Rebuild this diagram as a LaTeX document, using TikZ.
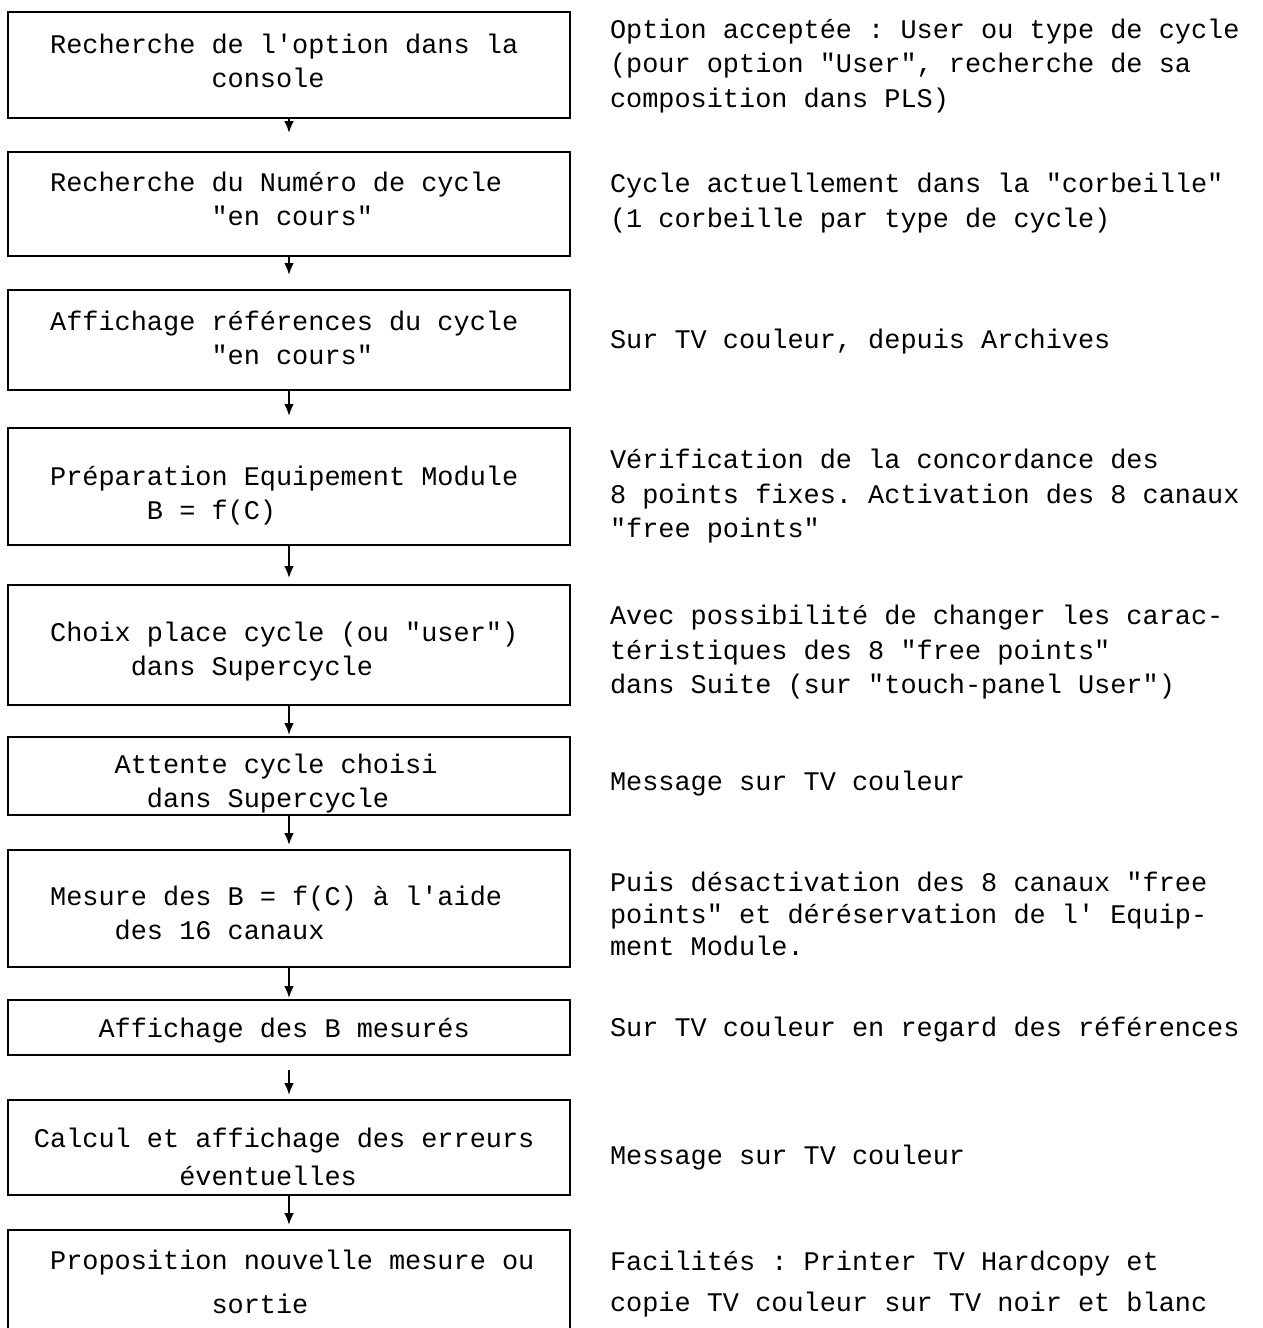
\documentclass[tikz,border=0pt]{standalone}
\usepackage{fontspec}
\setmonofont{Liberation Mono}
\usepackage{tikz}
\usetikzlibrary{positioning,arrows.meta}

% leading blanks, counted in characters of the typewriter font
\newcommand{\pad}[1]{\hspace*{#1\dimexpr0.6em\relax}}

\tikzset{
  box/.style={rectangle, draw, line width=2.3pt, text width=510pt, inner xsep=26pt,
    inner ysep=0pt, outer sep=0pt, align=left, text height=26pt,
    execute at begin node={\spaceskip=0.6em\relax\xspaceskip=0.6em\relax}},
  note/.style={inner sep=0pt, outer sep=0pt, align=left, anchor=west},
  arr/.style={-{Latex[length=12pt,width=10pt]}, line width=2.5pt}
}

\begin{document}
\begin{tikzpicture}[font=\ttfamily\fontsize{26.9pt}{34.5pt}\selectfont]
    \useasboundingbox (0,0) rectangle (1262pt,-1328pt);

    % the steps
    \node[box, minimum height=106pt, text depth=50pt, anchor=north west] (search) at (8pt,-12pt) {\pad{1}Recherche de l'option dans la\\\pad{11}console};
    \node[box, minimum height=104pt, text depth=52pt, below=34pt of search] (number) {\pad{1}Recherche du Numéro de cycle\\\pad{11}"en cours"};
    \node[box, minimum height=100pt, text depth=46pt, below=34pt of number] (refs) {\pad{1}Affichage références du cycle\\\pad{11}"en cours"};
    \node[box, minimum height=117pt, text depth=29pt, below=38pt of refs] (prep) {\pad{1}Préparation Equipement Module\\\pad{7}B = f(C)};
    \node[box, minimum height=120pt, text depth=34pt, below=40pt of prep] (place) {\pad{1}Choix place cycle (ou "user")\\\pad{6}dans Supercycle};
    \node[box, minimum height=78pt, text depth=32pt, below=32pt of place] (wait) {\pad{5}Attente cycle choisi\\\pad{7}dans Supercycle};
    \node[box, minimum height=117pt, text depth=33pt, below=35pt of wait] (measure) {\pad{1}Mesure des B = f(C) à l'aide\\\pad{5}des 16 canaux};
    \node[box, minimum height=55pt, text depth=7pt, below=33pt of measure] (show) {\pad{4}Affichage des B mesurés};
    \node[box, minimum height=95pt, text depth=27pt, below=45pt of show] (errors) {Calcul et affichage des erreurs\\[3.5pt]\pad{9}éventuelles};
    \node[box, minimum height=110pt, text depth=58pt, below=35pt of errors] (next) {\pad{1}Proposition nouvelle mesure ou\\[9.5pt]\pad{11}sortie};

    \draw[arr, shorten >=19pt] (search) -- (number);
    \draw[arr, shorten >=15pt] (number) -- (refs);
    \draw[arr, shorten >=12pt] (refs) -- (prep);
    \draw[arr, shorten >=7pt] (prep) -- (place);
    \draw[arr, shorten >=2pt] (place) -- (wait);
    \draw[arr, shorten >=5pt] (wait) -- (measure);
    \draw[arr, shorten >=2pt] (measure) -- (show);
    \draw[arr, shorten <=15pt, shorten >=5pt] (show) -- (errors);
    \draw[arr, shorten >=5pt] (errors) -- (next);

    % remarks on the right
    \node[note, right=40pt of search, yshift=-1pt] (nsearch) {Option acceptée : User ou type de cycle\\(pour option "User", recherche de sa\\composition dans PLS)};
    \node[note, right=40pt of number, yshift=1pt] (nnumber) {Cycle actuellement dans la "corbeille"\\(1 corbeille par type de cycle)};
    \node[note, right=40pt of refs, yshift=-2pt] (nrefs) {Sur TV couleur, depuis Archives};
    \node[note, right=40pt of prep, yshift=-10pt] (nprep) {Vérification de la concordance des\\8 points fixes. Activation des 8 canaux\\"free points"};
    \node[note, right=40pt of place, yshift=-7.5pt] (nplace) {Avec possibilité de changer les carac-\\téristiques des 8 "free points"\\dans Suite (sur "touch-panel User")};
    \node[note, right=40pt of wait, yshift=-8pt] (nwait) {Message sur TV couleur};
    \node[note, right=40pt of measure, yshift=-5pt] (nmeasure) {Puis désactivation des 8 canaux "free\\[-2.5pt]points" et déréservation de l' Equip-\\[-2.5pt]ment Module.};
    \node[note, right=40pt of show, yshift=-2pt] (nshow) {Sur TV couleur en regard des références};
    \node[note, right=40pt of errors, yshift=-10.5pt] (nerrors) {Message sur TV couleur};
    \node[note, right=40pt of next, yshift=0.5pt] (nnext) {Facilités : Printer TV Hardcopy et\\[6.5pt]copie TV couleur sur TV noir et blanc};
\end{tikzpicture}
\end{document}
